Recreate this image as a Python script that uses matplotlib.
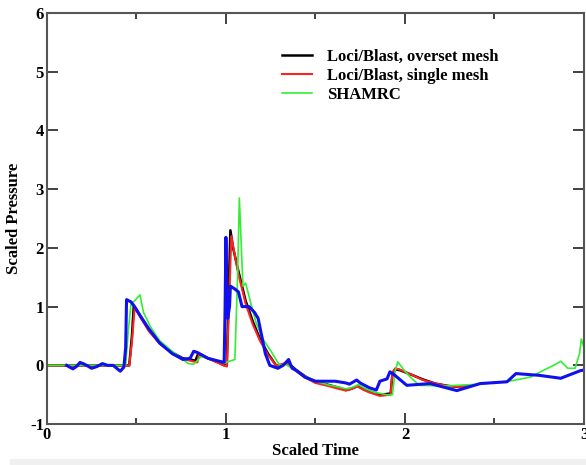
import numpy as np
import matplotlib
matplotlib.use('Agg')
import matplotlib.pyplot as plt
from matplotlib.patches import Rectangle

plt.rcParams['font.family'] = 'Liberation Serif'
plt.rcParams['font.weight'] = 'bold'
plt.rcParams['axes.unicode_minus'] = False

# Loci/Blast, overset mesh
t_over = [0, 0.46, 0.475, 0.485, 0.5, 0.53, 0.57, 0.63, 0.7, 0.76, 0.8, 0.83, 0.845, 0.86,
          0.9, 0.95, 0.99, 1.005, 1.015, 1.025, 1.04, 1.07, 1.11, 1.15, 1.19, 1.235, 1.28,
          1.31, 1.34, 1.37, 1.4, 1.45, 1.5, 1.57, 1.63, 1.67, 1.7, 1.735, 1.77, 1.8, 1.86,
          1.92, 1.93, 1.945, 1.97, 2.045, 2.1, 2.17, 2.24, 2.31, 2.36]
p_over = [0, 0, 0.5, 1.0, 0.95, 0.8, 0.6, 0.38, 0.22, 0.12, 0.1, 0.08, 0.2, 0.17,
          0.12, 0.06, 0.0, 0.0, 1.2, 2.3, 2.0, 1.6, 1.1, 0.75, 0.45, 0.2, 0.0,
          0.0, 0.05, -0.02, -0.1, -0.2, -0.28, -0.33, -0.38, -0.42, -0.4, -0.35, -0.4, -0.44, -0.5,
          -0.48, -0.15, -0.07, -0.08, -0.17, -0.24, -0.31, -0.35, -0.37, -0.35]

# Loci/Blast, single mesh
t_single = [0, 0.46, 0.475, 0.49, 0.5, 0.53, 0.57, 0.63, 0.7, 0.76, 0.8, 0.84, 0.85, 0.865,
            0.9, 0.95, 0.99, 1.005, 1.017, 1.03, 1.045, 1.07, 1.11, 1.15, 1.19, 1.235, 1.28,
            1.31, 1.34, 1.37, 1.4, 1.45, 1.5, 1.57, 1.63, 1.67, 1.7, 1.735, 1.77, 1.8, 1.86,
            1.92, 1.93, 1.945, 1.97, 2.045, 2.1, 2.17, 2.24, 2.31, 2.36]
p_single = [0, 0, 0.4, 0.98, 0.93, 0.78, 0.58, 0.37, 0.21, 0.11, 0.08, 0.05, 0.2, 0.18,
            0.12, 0.05, 0.0, -0.02, 1.0, 2.2, 1.95, 1.55, 1.05, 0.7, 0.42, 0.18, 0.0,
            0.02, 0.04, -0.03, -0.12, -0.22, -0.3, -0.35, -0.4, -0.43, -0.4, -0.36, -0.42, -0.46, -0.52,
            -0.5, -0.12, -0.05, -0.07, -0.17, -0.25, -0.31, -0.35, -0.37, -0.35]

# SHAMRC
t_sham = [0, 0.44, 0.455, 0.47, 0.49, 0.52, 0.54, 0.58, 0.63, 0.7, 0.76, 0.79, 0.82, 0.84,
          0.86, 0.9, 0.95, 1.0, 1.05, 1.065, 1.075, 1.095, 1.11, 1.14, 1.17, 1.21, 1.25, 1.28,
          1.3, 1.33, 1.37, 1.42, 1.5, 1.57, 1.63, 1.67, 1.7, 1.74, 1.78, 1.83, 1.9, 1.93,
          1.945, 1.96, 2.0, 2.03, 2.08, 2.23, 2.42, 2.6, 2.7, 2.77, 2.83, 2.87, 2.91, 2.95,
          2.975, 2.985, 3.0]
p_sham = [0, 0, 0.6, 1.05, 1.1, 1.2, 0.9, 0.65, 0.42, 0.24, 0.1, 0.03, 0.02, 0.08,
          0.15, 0.12, 0.08, 0.05, 0.1, 1.5, 2.85, 1.35, 1.4, 1.05, 0.71, 0.43, 0.25, 0.1,
          0.0, 0.02, -0.05, -0.15, -0.27, -0.33, -0.37, -0.4, -0.38, -0.33, -0.4, -0.46, -0.5, -0.5,
          -0.1, 0.06, -0.1, -0.2, -0.34, -0.35, -0.32, -0.26, -0.2, -0.09, 0.0, 0.07, -0.05, -0.05,
          0.2, 0.45, 0.3]

# blue curve (no legend entry)
t_blue = [0.11, 0.145, 0.165, 0.185, 0.21, 0.25, 0.28, 0.31, 0.34, 0.37, 0.41, 0.43, 0.44,
          0.445, 0.47, 0.49, 0.52, 0.57, 0.63, 0.7, 0.76, 0.8, 0.82, 0.84, 0.87, 0.9, 0.95,
          0.99, 0.995, 1.0, 1.005, 1.01, 1.02, 1.025, 1.05, 1.07, 1.09, 1.13, 1.16, 1.18,
          1.2, 1.22, 1.245, 1.29, 1.32, 1.35, 1.37, 1.4, 1.44, 1.5, 1.61, 1.67, 1.69, 1.73,
          1.75, 1.8, 1.84, 1.86, 1.9, 1.916, 1.944, 2.01, 2.14, 2.29, 2.42, 2.57, 2.62, 2.75,
          2.87, 2.98, 3.0]
p_blue = [0.0, -0.06, -0.02, 0.05, 0.02, -0.05, -0.02, 0.03, 0.0, 0.0, -0.1, -0.03, 0.3,
          1.12, 1.08, 1.0, 0.85, 0.62, 0.38, 0.2, 0.1, 0.12, 0.24, 0.22, 0.17, 0.12, 0.08,
          0.05, 0.9, 2.18, 1.2, 0.8, 1.0, 1.35, 1.3, 1.25, 1.0, 1.0, 0.9, 0.8,
          0.5, 0.2, 0.0, -0.05, 0.0, 0.1, -0.05, -0.1, -0.2, -0.27, -0.27, -0.3, -0.32, -0.25,
          -0.3, -0.38, -0.42, -0.27, -0.23, -0.11, -0.17, -0.34, -0.31, -0.43, -0.31, -0.28, -0.14, -0.17,
          -0.22, -0.09, -0.08]

fig = plt.figure(figsize=(5.86, 4.65), dpi=100)
ax = fig.add_axes([0.080, 0.088, 0.9166, 0.884])

ax.plot(t_over, p_over, color='black', lw=1.8, label='Loci/Blast, overset mesh')
ax.plot(t_single, p_single, color='#ff2020', lw=1.5, label='Loci/Blast, single mesh')
ax.plot(t_sham, p_sham, color='#33ee33', lw=1.2, label='SHAMRC')
ax.plot(t_blue, p_blue, color='#1010ee', lw=2.2)

ax.set_xlim(0, 3)
ax.set_ylim(-1, 6)
ax.set_xticks([0, 1, 2, 3])
ax.set_xticks([0.5, 1.5, 2.5], minor=True)
ax.set_yticks(range(-1, 7))
ax.tick_params(which='both', direction='in', top=True, right=True, labelsize=12,
               colors='#333333', labelcolor='black', pad=2)
ax.tick_params(which='major', length=8, width=1.3)
ax.tick_params(which='minor', length=4, width=1.3)
for s in ax.spines.values():
    s.set_color('#555555')
    s.set_linewidth(1.5)

ax.set_xlabel('Scaled Time', fontsize=12, fontweight='bold', labelpad=0)
ax.set_ylabel('Scaled Pressure', fontsize=12, fontweight='bold', labelpad=6)

ax.legend(loc='upper left', bbox_to_anchor=(0.41, 0.95), frameon=False,
          fontsize=12, handlelength=1.8, handletextpad=0.9, labelspacing=0.2)

fig.patches.append(Rectangle((0.017, 0.0), 0.983, 0.012, transform=fig.transFigure,
                             color='#f0f0f0', zorder=0))

fig.savefig('out.png', dpi=100)
